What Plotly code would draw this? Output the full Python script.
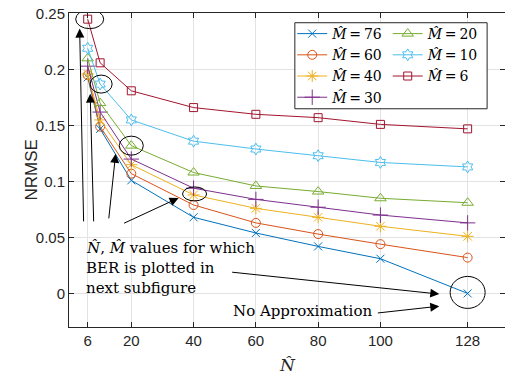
import plotly.graph_objects as go

# Number of subcarriers N-hat on the horizontal axis
N_hat = [6, 10, 20, 40, 60, 80, 100, 128]

# NRMSE for each M-hat
nrmse_m76 = [0.193, 0.147, 0.101, 0.068, 0.054, 0.042, 0.031, 0.0]
nrmse_m60 = [0.195, 0.149, 0.107, 0.079, 0.063, 0.053, 0.044, 0.032]
nrmse_m40 = [0.196, 0.155, 0.115, 0.088, 0.076, 0.068, 0.060, 0.051]
nrmse_m30 = [0.203, 0.162, 0.120, 0.094, 0.084, 0.077, 0.070, 0.063]
nrmse_m20 = [0.210, 0.170, 0.132, 0.108, 0.096, 0.091, 0.085, 0.081]
nrmse_m10 = [0.219, 0.187, 0.155, 0.136, 0.129, 0.123, 0.117, 0.113]
nrmse_m6 = [0.245, 0.206, 0.181, 0.166, 0.160, 0.157, 0.151, 0.147]

m_labels = ["76", "60", "40", "30", "20", "10", "6"]
x_ticks = [6, 20, 40, 60, 80, 100, 128]
y_ticks = [0, 0.05, 0.1, 0.15, 0.2, 0.25]
y_ticktext = ["0", "0.05", "0.1", "0.15", "0.2", "0.25"]

series = [
    (nrmse_m76, "#0072BD", "x-thin-open", 8, "legend"),
    (nrmse_m60, "#D95319", "circle-open", 9, "legend"),
    (nrmse_m40, "#EDB120", "asterisk-open", 10, "legend"),
    (nrmse_m30, "#7E2F8E", "cross-thin-open", 11, "legend"),
    (nrmse_m20, "#77AC30", "triangle-up-open", 10, "legend2"),
    (nrmse_m10, "#4DBEEE", "hexagram-open", 9, "legend2"),
    (nrmse_m6, "#A2142F", "square-open", 8, "legend2"),
]

SANS = "Liberation Sans, Arial, sans-serif"
SERIF = "DejaVu Serif, serif"
AX = "#262626"

fig = go.Figure()
for (vals, color, sym, size, leg), m in zip(series, m_labels):
    fig.add_trace(go.Scatter(
        x=N_hat, y=vals, mode="lines+markers",
        name=f"<i>M\u0302</i>\u2009=\u2009{m}",
        line=dict(color=color, width=1),
        marker=dict(symbol=sym, size=size, color=color,
                    line=dict(color=color, width=1)),
        legend=leg,
    ))

# Ellipses highlighting selected operating points (pixel-sized, anchored on data)
highlights = [
    (N_hat[0], nrmse_m6[0], 2, 0, 28, 19),
    (N_hat[1], nrmse_m10[1], 1, 0, 22, 18),
    (N_hat[2], nrmse_m20[2], 0, 0, 24, 19),
    (N_hat[3], nrmse_m40[3], 1, 1, 24, 14),
    (N_hat[7], nrmse_m76[7], 0, 1, 35, 32),
]
for xa, ya, dx, dy, w, h in highlights:
    fig.add_shape(type="circle", xref="x", yref="y",
                  xsizemode="pixel", ysizemode="pixel",
                  xanchor=xa, yanchor=ya,
                  x0=dx - w / 2, x1=dx + w / 2, y0=dy - h / 2, y1=dy + h / 2,
                  line=dict(color="black", width=1))

# Arrows: (tip x, tip y, tail x, tail y)
arrows = [
    (3.42, 0.2366, 4.7, 0.0630),
    (6.8, 0.1784, 7.93, 0.0630),
    (14.98, 0.1247, 12.73, 0.0657),
    (35.2, 0.0853, 17.2, 0.0621),
    (118.9, -0.0006, 51.9, 0.0191),
    (118.9, -0.0114, 98.7, -0.0176),
]
for tx, ty, sx, sy in arrows:
    fig.add_annotation(x=tx, y=ty, ax=sx, ay=sy, xref="x", yref="y",
                       axref="x", ayref="y", text="", showarrow=True,
                       arrowhead=2, arrowsize=1.8, arrowwidth=1,
                       arrowcolor="black")

# Explanatory note, one annotation per line
note_lines = ["<i>N\u0302</i>, <i>M\u0302</i> values for which",
              "BER is plotted in", "next subfigure"]
note_y = [0.0405, 0.0226, 0.0047]
for line_text, ly in zip(note_lines, note_y):
    fig.add_annotation(x=4.9, y=ly, xref="x", yref="y",
                       xanchor="left", yanchor="middle", align="left",
                       showarrow=False, text=line_text,
                       font=dict(family=SERIF, size=15, color="black"))
fig.add_annotation(x=52.0, y=-0.0158, xref="x", yref="y",
                   xanchor="left", yanchor="middle", showarrow=False,
                   text="No Approximation",
                   font=dict(family=SERIF, size=15, color="black"))

# Axis titles
fig.add_annotation(x=0, y=0.5, xref="paper", yref="paper", xshift=-50,
                   textangle=-90, showarrow=False, text="NRMSE",
                   font=dict(family=SANS, size=17, color=AX))
fig.add_annotation(x=0.5, y=0, xref="paper", yref="paper", yshift=-48.5,
                   yanchor="bottom", showarrow=False, borderpad=0,
                   text="<i>N\u0302</i>",
                   font=dict(family=SERIF, size=17, color=AX))

# Legend frame enclosing both legend columns
fig.add_shape(type="rect", xref="paper", yref="paper", layer="above",
              x0=0.518, x1=0.959, y0=0.695, y1=0.969,
              fillcolor="white", line=dict(color=AX, width=1))

legend_style = dict(xanchor="left", yanchor="top", bgcolor="rgba(0,0,0,0)",
                    borderwidth=0, tracegroupgap=0,
                    font=dict(family=SERIF, size=14, color="black"))

fig.update_layout(
    width=505, height=376,
    margin=dict(l=69, r=0, t=13, b=49),
    paper_bgcolor="white", plot_bgcolor="white",
    legend=dict(x=0.512, y=0.984, **legend_style),
    legend2=dict(x=0.731, y=0.984, **legend_style),
    xaxis=dict(range=[0, 140], tickvals=x_ticks, ticks="inside", ticklen=5,
               mirror="allticks", showline=True, linecolor=AX, linewidth=1,
               tickcolor=AX, showgrid=True, gridcolor="#e3e3e3", gridwidth=1,
               zeroline=False,
               tickfont=dict(family=SANS, size=15, color=AX)),
    yaxis=dict(range=[-0.03, 0.2505], tickvals=y_ticks, ticktext=y_ticktext,
               ticks="inside", ticklen=5, mirror="allticks", showline=True,
               linecolor=AX, linewidth=1, tickcolor=AX, showgrid=True,
               gridcolor="#e3e3e3", gridwidth=1, zeroline=False,
               tickfont=dict(family=SANS, size=15, color=AX)),
)

fig.write_html("out.html")
